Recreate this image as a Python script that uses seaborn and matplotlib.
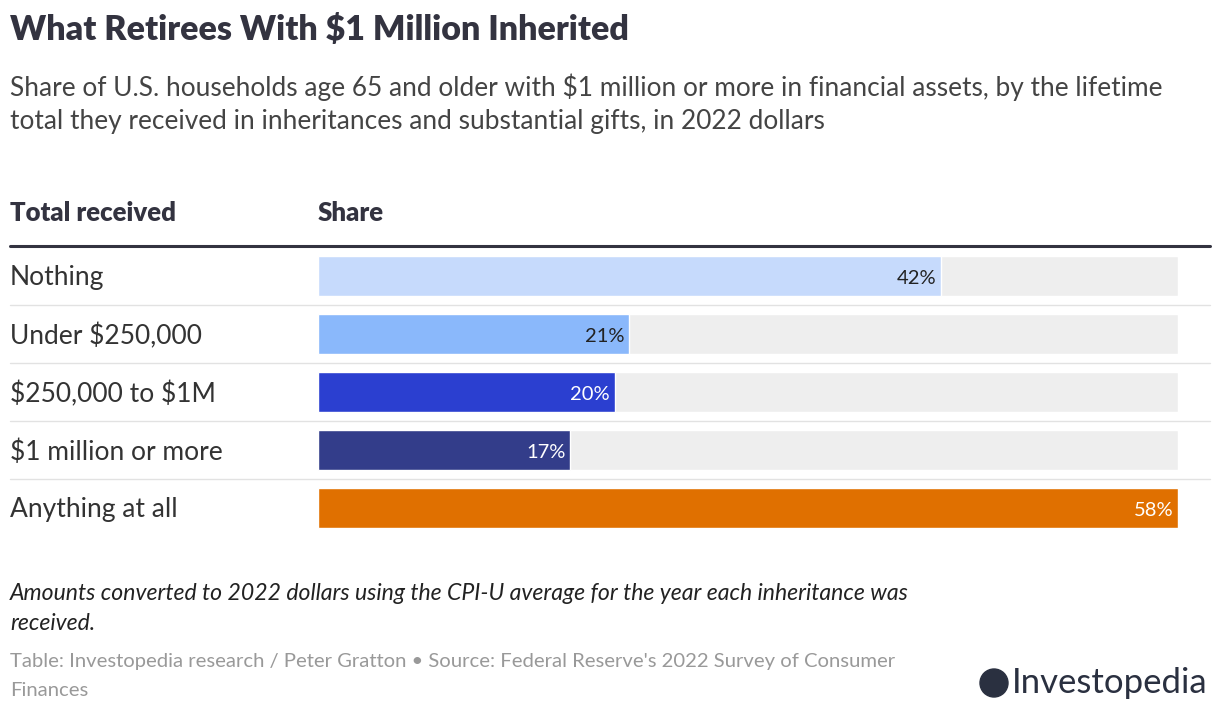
import matplotlib
matplotlib.use("Agg")
import matplotlib.pyplot as plt
import seaborn as sns
import pandas as pd
from matplotlib.lines import Line2D
from matplotlib.patches import Ellipse

categories = ["Nothing", "Under $250,000", "$250,000 to $1M", "$1 million or more", "Anything at all"]
shares = [42, 21, 20, 17, 58]
colors = ["#c6dafc", "#8ab8fb", "#2b3fd0", "#333d8a", "#e07000"]
max_share = 58

sns.set_theme(style="white")
plt.rcParams["font.family"] = ["Lato", "DejaVu Sans"]
plt.rcParams["text.parse_math"] = False

W, H = 1220, 712
fig = plt.figure(figsize=(W/100, H/100), dpi=100)
fig.patch.set_facecolor("white")

def fx(px): return px / W
def fy(py): return 1 - py / H

ax = fig.add_axes([fx(318), fy(537), fx(1178) - fx(318), (537 - 247) / H])
df = pd.DataFrame({"cat": categories, "share": shares, "bg": [max_share]*5})
sns.barplot(data=df, x="bg", y="cat", color="#eeeeee", width=0.69, ax=ax, saturation=1)
sns.barplot(data=df, x="share", y="cat", hue="cat", palette=colors, width=0.69, ax=ax,
            saturation=1, legend=False)
ax.set_xlim(0, max_share)
ax.set_ylim(4.5, -0.5)
ax.axis("off")
for i, v in enumerate(shares):
    tc = "#222222" if i < 2 else "white"
    ax.text(v - 0.3, i + 0.05, f"{v}%", ha="right", va="center", fontsize=14.5, color=tc)

dark = "#333340"
fig.text(fx(10), fy(30), "What Retirees With $1 Million Inherited", fontsize=24.5, fontweight="heavy",
         color=dark, va="center")
fig.text(fx(10), fy(87), "Share of U.S. households age 65 and older with $1 million or more in financial assets, by the lifetime",
         fontsize=18.9, color="#444444", va="center")
fig.text(fx(10), fy(121), "total they received in inheritances and substantial gifts, in 2022 dollars",
         fontsize=18.9, color="#444444", va="center")
fig.text(fx(10), fy(213), "Total received", fontsize=18.5, fontweight="heavy", color=dark, va="center")
fig.text(fx(318), fy(213), "Share", fontsize=18.5, fontweight="heavy", color=dark, va="center")
fig.add_artist(Line2D([fx(10), fx(1210)], [fy(246), fy(246)], color=dark, lw=2.2))
for i, c in enumerate(categories):
    yc = 276 + 58 * i
    fig.text(fx(10), fy(yc + 2), c, fontsize=19, color="#333333", va="center")
    if i < 4:
        fig.add_artist(Line2D([fx(10), fx(1210)], [fy(yc + 29), fy(yc + 29)], color="#e2e2e2", lw=1))

fig.text(fx(10), fy(593), "Amounts converted to 2022 dollars using the CPI-U average for the year each inheritance was",
         fontsize=16.6, style="italic", color="#222222", va="center")
fig.text(fx(10), fy(623), "received.", fontsize=16.6, style="italic", color="#222222", va="center")
fig.text(fx(10), fy(662), "Table: Investopedia research / Peter Gratton • Source: Federal Reserve's 2022 Survey of Consumer",
         fontsize=14.6, color="#999999", va="center")
fig.text(fx(10), fy(690), "Finances", fontsize=14.6, color="#999999", va="center")

fig.add_artist(Ellipse((fx(994), fy(683)), 28/W, 28/H, transform=fig.transFigure, color="#2a3040"))
fig.text(fx(1012), fy(683), "Investopedia", fontsize=25, color="#2a3040", va="center")

fig.savefig("out.png", dpi=100, facecolor="white")
